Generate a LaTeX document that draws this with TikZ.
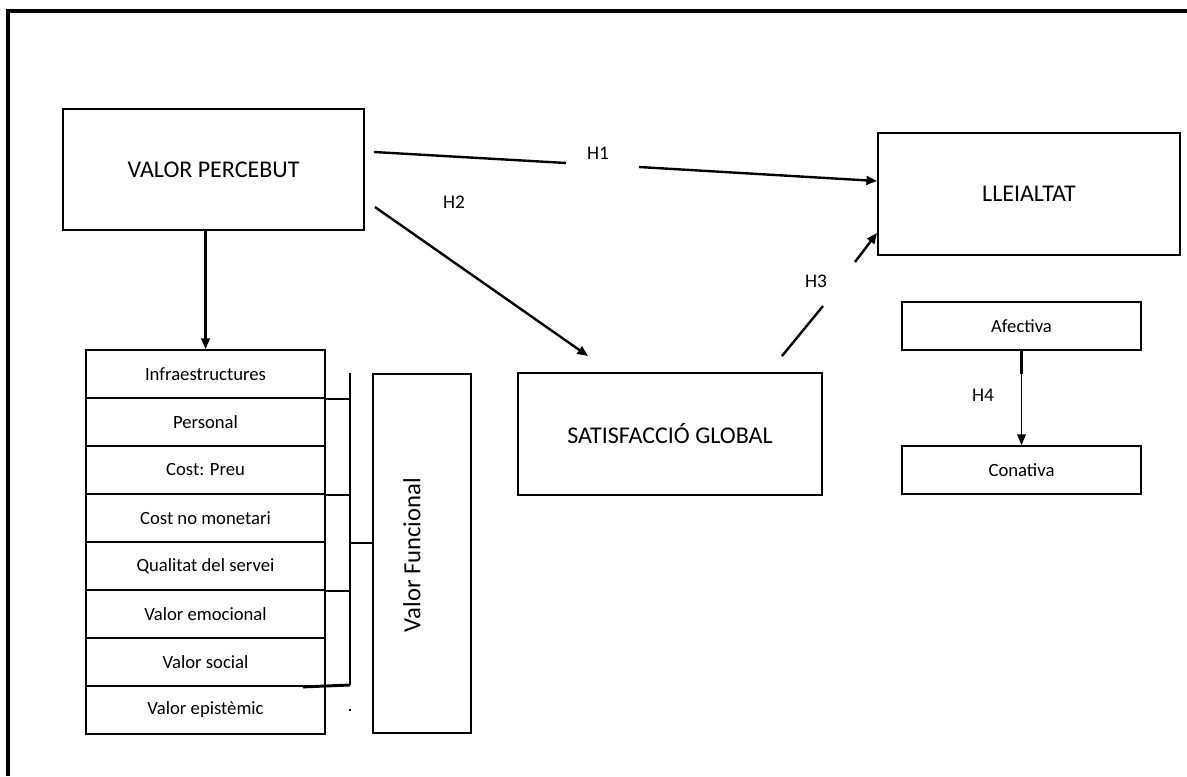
\documentclass[tikz,border=0pt]{standalone}
\usepackage{fontspec}
\setmainfont{Carlito}
\usetikzlibrary{arrows.meta, positioning, calc}

\newcommand{\pxu}{0.75pt}
\tikzset{
  bigbox/.style={draw, line width=1.4pt, inner sep=0pt, font=\fontsize{18}{20}\selectfont},
  itembox/.style={draw, line width=1.4pt, inner sep=0pt, minimum width=239*\pxu, minimum height=48*\pxu, font=\fontsize{14}{16}\selectfont},
  hlabel/.style={inner sep=0pt, font=\fontsize{14.5}{16}\selectfont},
  link/.style={line width=1.8pt},
  arr/.style={link, -{Triangle[length=8pt, width=6.5pt]}}
}

\begin{document}
\begin{tikzpicture}[x=\pxu, y=-\pxu]
  \useasboundingbox (0,0) rectangle (1187,776);
  \draw[line width=2.4pt] (8,776) -- (8,11) -- (1187,11);

  \node[bigbox, minimum width=301*\pxu, minimum height=121*\pxu] (valor) at (213.5,169.5) {VALOR PERCEBUT};
  \node[bigbox, minimum width=302*\pxu, minimum height=122*\pxu] (lleialtat) at (1029,194) {LLEIALTAT};
  \node[bigbox, minimum width=304*\pxu, minimum height=122*\pxu] (satisf) at (670,434) {SATISFACCIÓ GLOBAL};
  \node[itembox] (afectiva) at (1021.5,326) {Afectiva};
  \node[itembox] (conativa) at (1021.5,470) {Conativa};

  \foreach \lbl [count=\i] in {Infraestructures, Personal, Cost: Preu, Cost no monetari,
      Qualitat del servei, Valor emocional, Valor social, Valor epistèmic} {
    \node[itembox] (r\i) at (205.5,326+48*\i) {\lbl};
  }

  \node[bigbox, minimum width=98*\pxu, minimum height=359*\pxu] (funcional) at (422,553.5) {};
  \node[rotate=90, inner sep=0pt, font=\fontsize{18.5}{20}\selectfont] (functxt) at (412,555) {Valor Funcional};

  % claudator
  \coordinate (brtop) at (350,373);
  \coordinate (brbot) at (350,685);
  \draw[line width=1.4pt] (brtop) -- (brbot);
  \foreach \i in {1,3,5} {
    \draw[line width=1.4pt] (r\i.south east) -- (r\i.south east -| brtop);
  }
  \draw[line width=1.4pt] (r4.south east -| brtop) -- (r4.south east -| funcional.west);
  \draw[line width=2.2pt] ($(r7.south east)+(-23,0)$) -- (brbot);
  \fill (349,709) rectangle (351,711);

  \draw[arr] (valor.south -| r1.north) -- (r1.north);

  \coordinate (h1a) at (566,163);
  \coordinate (h1b) at (639,167);
  \draw[link] ($(valor.east)+(9,-17.5)$) -- (h1a);
  \node[hlabel] (h1) at (598,153) {H1};
  \draw[arr] (h1b) -- (lleialtat.west |- 0,181);

  \node[hlabel] (h2) at (454,202) {H2};
  \draw[arr] ($(valor.east)+(10,37.5)$) -- ($(satisf.north west)+(71,-16)$);

  \coordinate (h3a) at (823,306);
  \coordinate (h3b) at (855,262);
  \draw[link] ($(satisf.north east)+(-41,-16)$) -- (h3a);
  \node[hlabel] (h3) at (816,281) {H3};
  \draw[arr] (h3b) -- ($(lleialtat.south west)+(0,-23)$);

  \draw[line width=0.9pt, -{Triangle[length=8pt, width=6.5pt]}] (afectiva.south) -- (conativa.north);
  \draw[link] (afectiva.south) -- ++(0,23);
  \node[hlabel] (h4) at (983,395) {H4};
\end{tikzpicture}
\end{document}
